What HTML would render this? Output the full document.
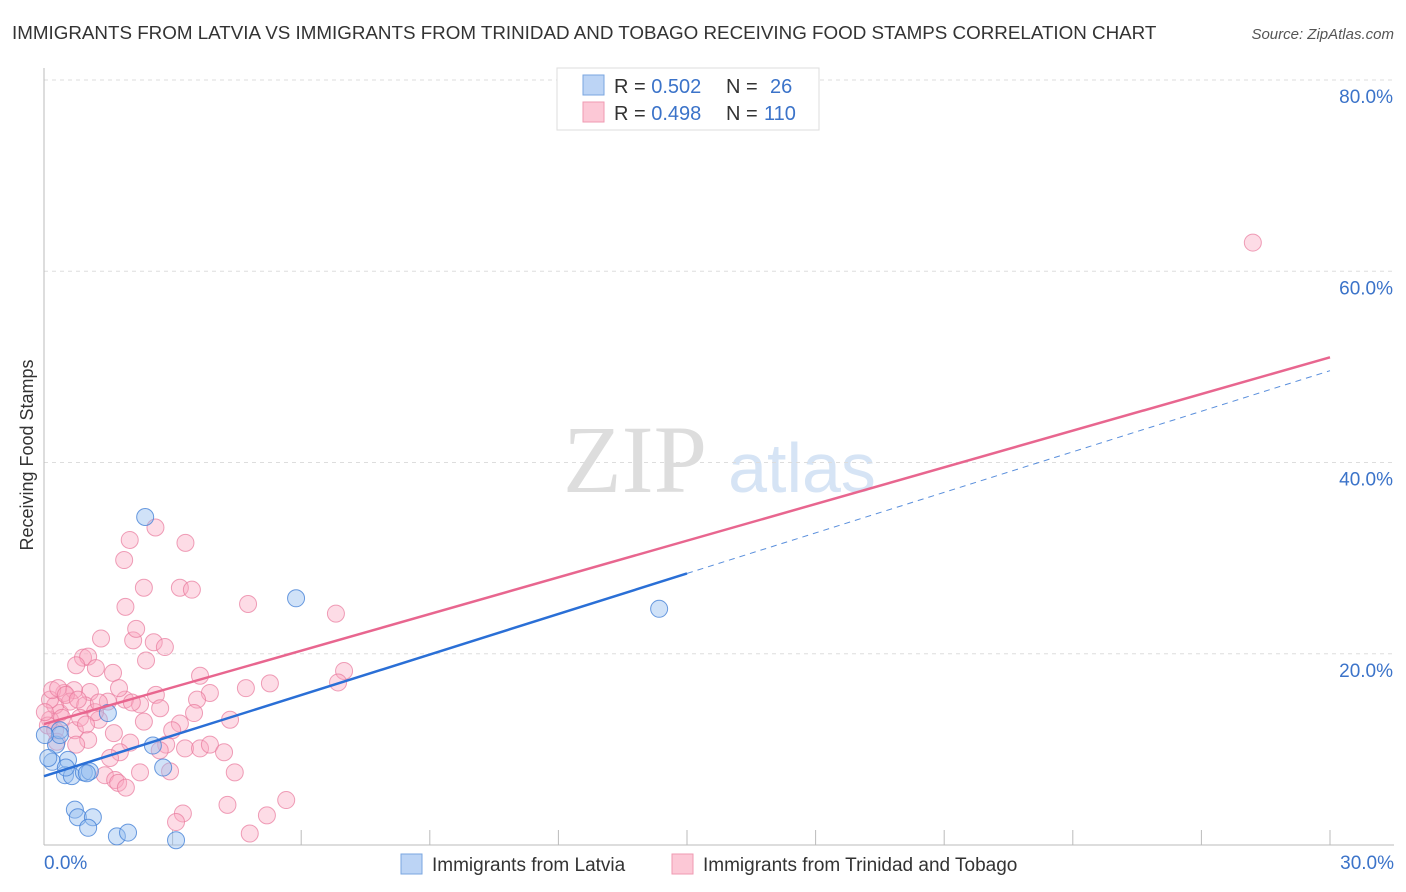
<!DOCTYPE html>
<html><head><meta charset="utf-8"><style>
body{margin:0;background:#fff;font-family:"Liberation Sans",sans-serif;}
svg{display:block}
</style></head><body>
<svg id="c" width="1406" height="892" xmlns="http://www.w3.org/2000/svg">
<text x="12" y="39" font-size="18.8" fill="#333">IMMIGRANTS FROM LATVIA VS IMMIGRANTS FROM TRINIDAD AND TOBAGO RECEIVING FOOD STAMPS CORRELATION CHART</text>
<text x="1394" y="39" font-size="15" fill="#555" font-style="italic" text-anchor="end">Source: ZipAtlas.com</text>
<text x="635" y="492" font-size="96" fill="#ddd" font-family="Liberation Serif,serif" text-anchor="middle">ZIP</text>
<text x="802" y="492" font-size="70" fill="#d6e4f5" text-anchor="middle">atlas</text>
<g id="grid"></g><g id="ticks"></g><g id="pts"></g><g id="lines"></g>
<text transform="translate(33,455) rotate(-90)" font-size="18" fill="#333" text-anchor="middle">Receiving Food Stamps</text>
<text x="44" y="869" font-size="19" fill="#3b73c9">0.0%</text>
<text x="1394" y="869" font-size="19" fill="#3b73c9" text-anchor="end">30.0%</text>
<g>
<rect x="557" y="68" width="262" height="62" fill="#fff" stroke="#ddd"/>
<rect x="583" y="75" width="21" height="20" fill="#bcd4f5" stroke="#7aa6e0"/>
<rect x="583" y="102" width="21" height="20" fill="#fcc8d6" stroke="#ef9ab2"/>
<text x="614" y="93" font-size="20" fill="#333">R = <tspan fill="#3b73c9">0.502</tspan><tspan x="726">N = </tspan><tspan x="770" fill="#3b73c9">26</tspan></text>
<text x="614" y="120" font-size="20" fill="#333">R = <tspan fill="#3b73c9">0.498</tspan><tspan x="726">N = </tspan><tspan x="764" fill="#3b73c9">110</tspan></text>
</g>
<g>
<rect x="401" y="854" width="21" height="20" fill="#bcd4f5" stroke="#7aa6e0"/>
<text x="432" y="871" font-size="19" fill="#333">Immigrants from Latvia</text>
<rect x="672" y="854" width="21" height="20" fill="#fcc8d6" stroke="#ef9ab2"/>
<text x="703" y="871" font-size="19" fill="#333">Immigrants from Trinidad and Tobago</text>
</g>
</svg>
<script>
const yTicks=[20,40,60,80];
const yTickLabels=["20.0%","40.0%","60.0%","80.0%"];
const xTicks=[0,3,6,9,12,15,18,21,24,27,30];
const blueX=[2.36,5.88,14.35,1.49,2.54,2.78,0.28,0.37,0.19,0.56,0.49,0.65,0.93,1.07,0.72,0.79,1.14,1.03,1.70,1.96,3.08,0.51,0.10,0.37,0.02,1.0];
const blueY=[34.3,25.8,24.7,13.8,10.4,8.1,10.5,12.0,8.7,8.9,7.3,7.2,7.6,7.7,3.7,2.9,2.9,1.8,0.9,1.3,0.5,8.1,9.1,11.5,11.5,7.5];
const pinkX=[28.2,2.6,2.0,3.3,1.87,2.33,3.17,3.45,1.9,4.76,6.81,1.33,2.08,2.15,2.56,2.82,2.38,0.91,1.03,0.75,1.21,1.61,3.64,7.0,6.86,5.27,4.71,3.87,2.61,3.57,1.07,0.47,0.70,1.49,1.89,1.75,2.24,2.71,3.5,3.17,4.34,2.33,1.28,0.37,0.14,0.26,0.61,0.96,1.19,0.72,1.03,2.01,2.85,3.29,3.64,3.87,4.2,2.7,1.77,1.54,4.45,2.94,2.24,1.42,1.66,1.73,1.91,4.28,5.65,3.24,3.08,5.2,4.8,0.14,0.09,0.26,0.42,0.84,0.19,0.33,0.51,0.79,1.28,2.05,0.3,0.02,0.98,1.63,0.75,2.99];
const pinkY=[63.0,33.2,31.9,31.6,29.8,26.9,26.9,26.7,24.9,25.2,24.2,21.6,21.4,22.6,21.2,20.7,19.3,19.6,19.7,18.8,18.5,18.0,17.7,18.2,17.0,16.9,16.4,15.9,15.7,15.2,16.0,15.9,16.2,15.0,15.2,16.4,14.7,14.3,13.8,12.7,13.1,12.9,13.1,13.8,13.1,14.6,15.0,14.6,13.9,12.0,11.0,10.7,10.5,10.1,10.1,10.5,9.7,9.9,9.7,9.1,7.6,7.7,7.6,7.3,6.8,6.5,6.0,4.2,4.7,3.3,2.4,3.1,1.2,15.2,12.5,12.0,13.3,13.3,16.2,16.4,15.7,15.2,14.9,14.9,10.8,13.9,12.6,11.7,10.5,12.0];
const blueLine={x0:0,y0:7.2,x1:15,y1:28.4,xe:30,ye:49.6};
const pinkLine={x0:0,y0:12.65,x1:30,y1:51.0};
const X=v=>44+v*(1286/30), Y=v=>845-v*(765/80);
const NS="http://www.w3.org/2000/svg";
function mk(t,a,p){const e=document.createElementNS(NS,t);for(const k in a)e.setAttribute(k,a[k]);p.appendChild(e);return e;}
const g=document.getElementById('grid');
yTicks.forEach((t,i)=>{
 const l=mk('line',{x1:44,x2:1394,y1:Y(t),y2:Y(t),stroke:'#ddd','stroke-dasharray':'4,4'},g);
 
 
 const tx=mk('text',{x:1393,y:Y(t)+23,'font-size':19,fill:'#3b73c9','text-anchor':'end'},g);
 tx.textContent=yTickLabels[i];
 
 
});
const tk=document.getElementById('ticks');
let ax=mk('line',{x1:44,x2:44,y1:68,y2:845,stroke:'#bbb'},tk);


ax=mk('line',{x1:44,x2:1394,y1:845,y2:845,stroke:'#bbb'},tk);


xTicks.forEach(t=>{const l=mk('line',{x1:X(t),x2:X(t),y1:830,y2:845,stroke:'#bbb'},tk);
 
 });
const pg=document.getElementById('pts');
pinkX.forEach((v,i)=>{const c=mk('circle',{cx:X(v),cy:Y(pinkY[i]),r:8.5,fill:'rgba(249,168,192,0.4)',stroke:'rgba(232,120,155,0.7)','stroke-width':1},pg);
 
 });
blueX.forEach((v,i)=>{const c=mk('circle',{cx:X(v),cy:Y(blueY[i]),r:8.5,fill:'rgba(150,190,240,0.45)',stroke:'rgba(70,130,215,0.8)','stroke-width':1},pg);
 
 });
const lg=document.getElementById('lines');
let L=mk('line',{x1:X(pinkLine.x0),y1:Y(pinkLine.y0),x2:X(pinkLine.x1),y2:Y(pinkLine.y1),stroke:'#e8668f','stroke-width':2.5},lg);


L=mk('line',{x1:X(blueLine.x0),y1:Y(blueLine.y0),x2:X(blueLine.x1),y2:Y(blueLine.y1),stroke:'#2a6fd6','stroke-width':2.5},lg);


L=mk('line',{x1:X(blueLine.x1),y1:Y(blueLine.y1),x2:X(blueLine.xe),y2:Y(blueLine.ye),stroke:'#5a8fdc','stroke-width':1,'stroke-dasharray':'6,5'},lg);


</script>
</body></html>
